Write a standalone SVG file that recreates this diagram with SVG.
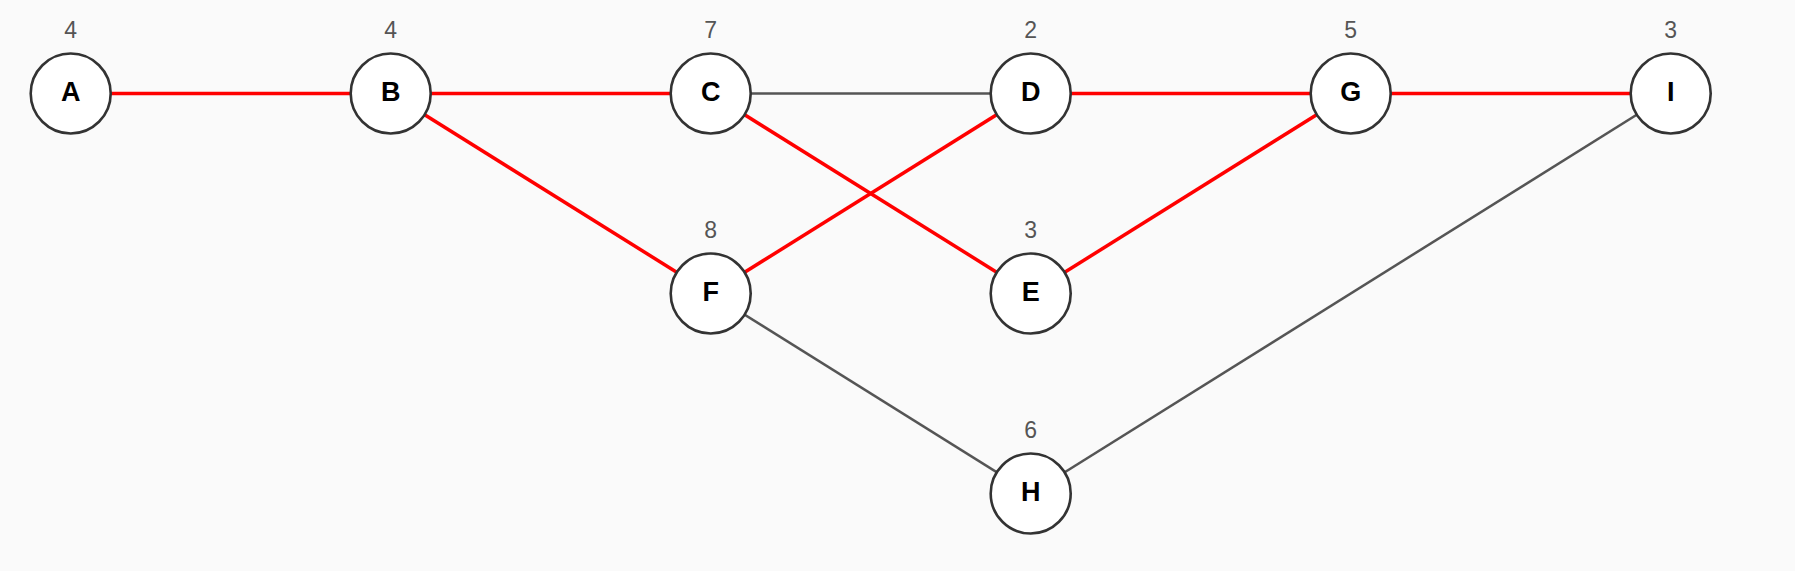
<svg xmlns="http://www.w3.org/2000/svg" width="1795" height="571" viewBox="0 0 1795 571">
<style>
.bg{fill:#fafafa}
.e{stroke:#555;stroke-width:2.5;fill:none}
.r{stroke:#ff0000;stroke-width:3.5;fill:none}
.n circle{fill:#fff;stroke:#333;stroke-width:2.6}
.lbl{font-family:"Liberation Sans",Arial,sans-serif;font-weight:bold;font-size:27px;fill:#000;text-anchor:middle}
.w{font-family:"Liberation Sans",Arial,sans-serif;font-size:23px;fill:#555;text-anchor:middle}
</style>
<rect class="bg" x="0" y="0" width="1795" height="571"/>
<g id="connectors">
<line class="r" x1="70.7" y1="93.5" x2="390.7" y2="93.5"/>
<line class="r" x1="390.7" y1="93.5" x2="710.7" y2="93.5"/>
<line class="e" x1="710.7" y1="93.5" x2="1030.7" y2="93.5"/>
<line class="r" x1="1030.7" y1="93.5" x2="1350.7" y2="93.5"/>
<line class="r" x1="1350.7" y1="93.5" x2="1670.7" y2="93.5"/>
<line class="r" x1="390.7" y1="93.5" x2="710.7" y2="293.5"/>
<line class="r" x1="710.7" y1="93.5" x2="1030.7" y2="293.5"/>
<line class="r" x1="710.7" y1="293.5" x2="1030.7" y2="93.5"/>
<line class="r" x1="1030.7" y1="293.5" x2="1350.7" y2="93.5"/>
<line class="e" x1="710.7" y1="293.5" x2="1030.7" y2="493.5"/>
<line class="e" x1="1030.7" y1="493.5" x2="1670.7" y2="93.5"/>
</g>
<g id="node-A" class="n"><circle cx="70.7" cy="93.5" r="40"/><text class="lbl" x="70.7" y="101">A</text><text class="w" x="70.7" y="38.3">4</text></g>
<g id="node-B" class="n"><circle cx="390.7" cy="93.5" r="40"/><text class="lbl" x="390.7" y="101">B</text><text class="w" x="390.7" y="38.3">4</text></g>
<g id="node-C" class="n"><circle cx="710.7" cy="93.5" r="40"/><text class="lbl" x="710.7" y="101">C</text><text class="w" x="710.7" y="38.3">7</text></g>
<g id="node-D" class="n"><circle cx="1030.7" cy="93.5" r="40"/><text class="lbl" x="1030.7" y="101">D</text><text class="w" x="1030.7" y="38.3">2</text></g>
<g id="node-G" class="n"><circle cx="1350.7" cy="93.5" r="40"/><text class="lbl" x="1350.7" y="101">G</text><text class="w" x="1350.7" y="38.3">5</text></g>
<g id="node-I" class="n"><circle cx="1670.7" cy="93.5" r="40"/><text class="lbl" x="1670.7" y="101">I</text><text class="w" x="1670.7" y="38.3">3</text></g>
<g id="node-F" class="n"><circle cx="710.7" cy="293.5" r="40"/><text class="lbl" x="710.7" y="301">F</text><text class="w" x="710.7" y="238.3">8</text></g>
<g id="node-E" class="n"><circle cx="1030.7" cy="293.5" r="40"/><text class="lbl" x="1030.7" y="301">E</text><text class="w" x="1030.7" y="238.3">3</text></g>
<g id="node-H" class="n"><circle cx="1030.7" cy="493.5" r="40"/><text class="lbl" x="1030.7" y="501">H</text><text class="w" x="1030.7" y="438.3">6</text></g>
</svg>
